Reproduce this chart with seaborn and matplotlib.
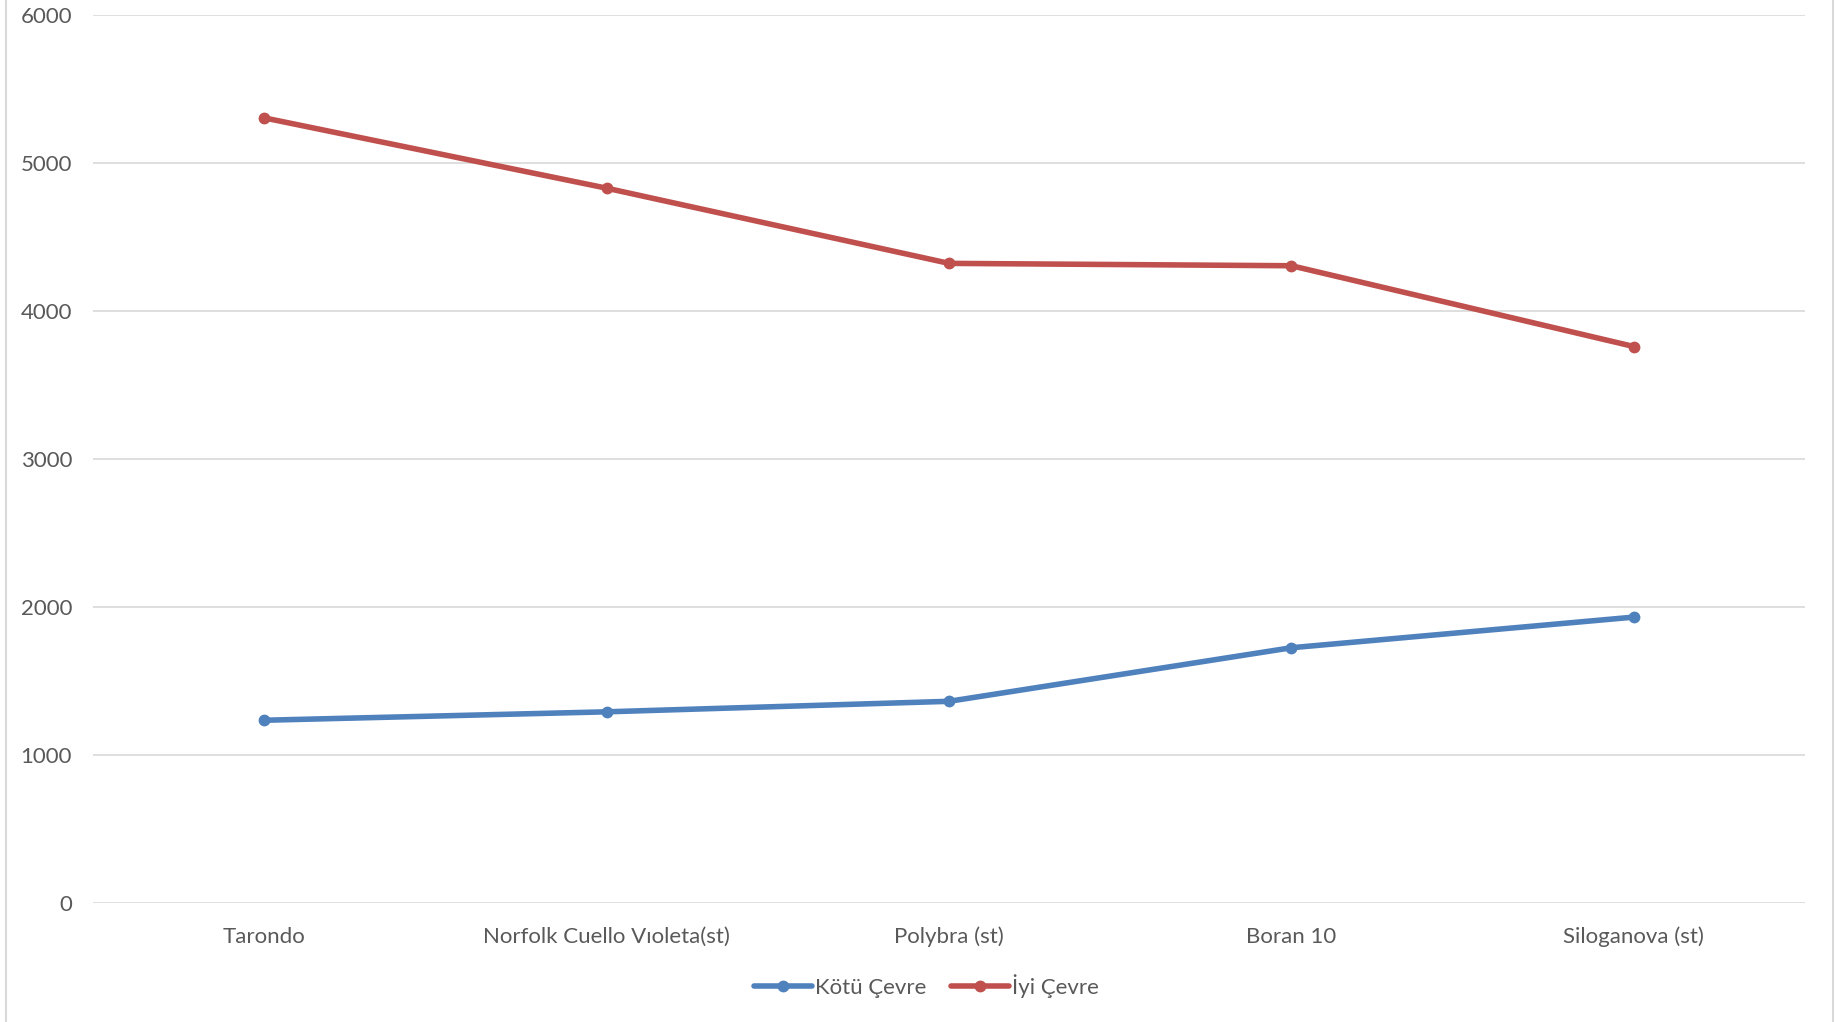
import matplotlib
matplotlib.use('Agg')
import matplotlib.pyplot as plt
from matplotlib.patches import Rectangle
import pandas as pd
import seaborn as sns

# values
categories = ['Tarondo', 'Norfolk Cuello Vıoleta(st)', 'Polybra (st)', 'Boran 10', 'Siloganova (st)']
kotu_cevre = [1235, 1292, 1363, 1725, 1932]
iyi_cevre = [5305, 4830, 4322, 4306, 3760]
series_names = ['Kötü Çevre', 'İyi Çevre']
series_colors = ['#4F81BD', '#C0504D']
y_ticks = [0, 1000, 2000, 3000, 4000, 5000, 6000]

df = pd.DataFrame({
    'kategori': categories * 2,
    'deger': kotu_cevre + iyi_cevre,
    'seri': [series_names[0]] * len(categories) + [series_names[1]] * len(categories),
})

sns.set_theme(style='white')
plt.rcParams['font.family'] = ['Lato', 'DejaVu Sans']
text_color = '#595959'
grid_color = '#D9D9D9'

fig = plt.figure(figsize=(18.35, 10.22), dpi=100)
ax = fig.add_axes([0.0507, 0.1164, 0.9330, 0.8689])

sns.lineplot(data=df, x='kategori', y='deger', hue='seri', hue_order=series_names,
             palette=series_colors, marker='o', markersize=8.5, markeredgewidth=0,
             linewidth=4.0, sort=False, ax=ax, legend=False)

ax.set_xlim(-0.5, len(categories) - 0.5)
ax.set_ylim(0, 6000)
ax.set_yticks(y_ticks)
ax.set_yticklabels([str(v) for v in y_ticks])
ax.set_xticks(range(len(categories)))
ax.set_xticklabels(categories)
ax.yaxis.grid(True, color=grid_color, linewidth=1.2)
ax.set_axisbelow(True)
for s in ax.spines.values():
    s.set_visible(False)
ax.tick_params(axis='both', length=0, labelsize=16, colors=text_color)
ax.tick_params(axis='y', pad=15)
ax.tick_params(axis='x', pad=17)
ax.set_xlabel('')
ax.set_ylabel('')

handles = [plt.Line2D([], [], color=c, linewidth=4.0, marker='o', markersize=8.5, markeredgewidth=0)
           for c in series_colors]
fig.legend(handles, series_names, loc='center', bbox_to_anchor=(0.505, 0.035), ncol=2,
           frameon=False, fontsize=16, labelcolor=text_color, handlelength=2.6,
           handletextpad=0.15, columnspacing=1.1, numpoints=1)

# chart area border
fig.patches.append(Rectangle((6 / 1835, -0.05), 1827 / 1835, 1.1, transform=fig.transFigure,
                             fill=False, edgecolor=grid_color, linewidth=1.5))

fig.savefig('out.png', dpi=100)
